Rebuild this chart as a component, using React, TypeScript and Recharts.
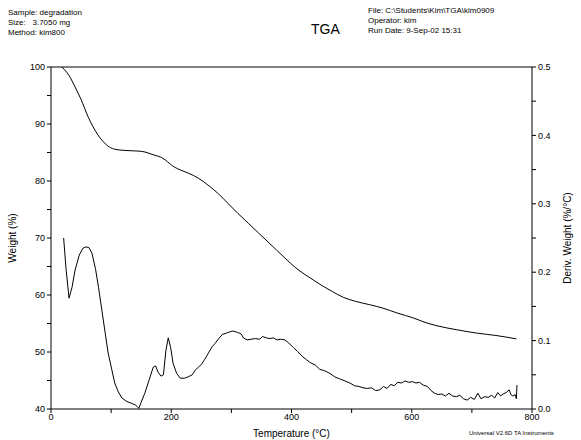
import { ComposedChart, Line, XAxis, YAxis, ReferenceLine } from 'recharts';

// TGA weight curve (temperature °C, weight %)
const tgaTemp = [18, 22, 30, 40, 50, 62, 70, 78, 86, 95, 105, 118, 135, 151, 162, 173, 182, 190, 198, 206, 216, 228, 245, 261, 278, 294, 311, 328, 345, 361, 375, 389, 398, 414, 431, 450, 468, 486, 506, 530, 552, 577, 602, 622, 642, 675, 709, 740, 774];
const tgaWeight = [100, 99.6, 98.5, 96.5, 94.3, 91.2, 89.5, 88.1, 87.0, 86.1, 85.6, 85.4, 85.3, 85.2, 84.9, 84.5, 84.2, 83.7, 83.0, 82.4, 81.9, 81.4, 80.5, 79.3, 77.8, 76.1, 74.3, 72.6, 70.9, 69.3, 67.9, 66.5, 65.6, 64.2, 63.0, 61.7, 60.6, 59.6, 58.9, 58.3, 57.7, 56.8, 56.0, 55.2, 54.6, 53.9, 53.3, 52.9, 52.3];

// derivative weight curve (temperature °C, %/°C)
const dtgTemp = [21, 25, 30, 35, 40, 47, 53, 58, 63, 68, 74, 79, 87, 95, 101, 106, 112, 118, 126, 135, 140, 143, 146, 150, 156, 163, 170, 174, 178, 183, 187, 191, 195, 199, 203, 209, 215, 222, 228, 235, 240, 245, 250, 256, 262, 268, 273, 279, 285, 292, 298, 303, 310, 316, 320, 326, 333, 340, 347, 352, 358, 364, 370, 376, 382, 389, 396, 403, 410, 419, 425, 431, 440, 447, 455, 464, 472, 480, 489, 497, 505, 512, 519, 526, 533, 540, 547, 553, 559, 565, 571, 577, 583, 589, 595, 601, 607, 613, 619, 626, 632, 638, 644, 650, 656, 662, 668, 674, 680, 686, 692, 698, 704, 710, 715, 721, 727, 733, 738, 743, 748, 752, 757, 762, 765, 768, 772, 774, 775];
const dtgDeriv = [0.250, 0.205, 0.162, 0.178, 0.203, 0.225, 0.235, 0.237, 0.236, 0.228, 0.205, 0.178, 0.130, 0.082, 0.058, 0.038, 0.025, 0.016, 0.011, 0.008, 0.006, 0.004, 0.001, 0.010, 0.023, 0.042, 0.061, 0.063, 0.054, 0.048, 0.050, 0.085, 0.104, 0.090, 0.067, 0.052, 0.045, 0.045, 0.047, 0.050, 0.057, 0.061, 0.065, 0.073, 0.082, 0.091, 0.096, 0.103, 0.109, 0.111, 0.113, 0.114, 0.112, 0.110, 0.104, 0.101, 0.102, 0.103, 0.102, 0.106, 0.104, 0.103, 0.104, 0.101, 0.102, 0.101, 0.096, 0.090, 0.084, 0.076, 0.072, 0.068, 0.064, 0.058, 0.056, 0.052, 0.047, 0.044, 0.041, 0.038, 0.034, 0.033, 0.031, 0.030, 0.031, 0.027, 0.028, 0.033, 0.030, 0.036, 0.034, 0.039, 0.038, 0.041, 0.039, 0.040, 0.038, 0.039, 0.035, 0.033, 0.027, 0.023, 0.021, 0.022, 0.019, 0.023, 0.019, 0.018, 0.020, 0.015, 0.013, 0.017, 0.014, 0.023, 0.015, 0.018, 0.017, 0.020, 0.016, 0.024, 0.019, 0.022, 0.024, 0.028, 0.021, 0.019, 0.021, 0.015, 0.035];

const xTicks = [0, 100, 200, 300, 400, 500, 600, 700, 800];
const leftTicks = [40, 45, 50, 55, 60, 65, 70, 75, 80, 85, 90, 95, 100];
const rightTicks = [0, 0.05, 0.1, 0.15, 0.2, 0.25, 0.3, 0.35, 0.4, 0.45, 0.5];

const tgaData = tgaTemp.map((t, i) => ({ temp: t, weight: tgaWeight[i] }));
const dtgData = dtgTemp.map((t, i) => ({ temp: t, deriv: dtgDeriv[i] }));

const font = '"Liberation Sans", Arial, sans-serif';
const tickStyle = { fontSize: 9, fill: '#000', fontFamily: font };
const small = { position: 'absolute' as const, fontFamily: font, fontSize: 8, lineHeight: '10px', color: '#000', whiteSpace: 'pre' as const };

export default function App() {
  return (
    <div style={{ position: 'absolute', left: 0, top: 0, width: 581, height: 440, background: '#fff' }}>
      <div style={{ ...small, left: 8, top: 8 }}>{'Sample: degradation\nSize:   3.7050 mg\nMethod: kim800'}</div>
      <div style={{ ...small, left: 311, top: 21, fontSize: 14, lineHeight: '16px' }}>TGA</div>
      <div style={{ ...small, left: 368, top: 6 }}>{'File: C:\\Students\\Kim\\TGA\\kim0909\nOperator: kim\nRun Date: 9-Sep-02 15:31'}</div>
      <ComposedChart width={581} height={440} margin={{ top: 67, right: 0, bottom: 0, left: 0 }}>
        <XAxis
          type="number"
          dataKey="temp"
          domain={[0, 800]}
          ticks={xTicks}
          tickFormatter={(v: number) => (v % 200 === 0 ? String(v) : '')}
          height={31}
          tick={tickStyle}
          tickSize={4}
          tickMargin={1}
          stroke="#000"
          allowDataOverflow
          label={{ value: 'Temperature (°C)', position: 'insideBottom', offset: 3, style: { fontSize: 10, fill: '#000', fontFamily: font } }}
        />
        <YAxis
          yAxisId="left"
          domain={[40, 100]}
          ticks={leftTicks}
          tickFormatter={(v: number) => (v % 10 === 0 ? String(v) : '')}
          width={51}
          tick={tickStyle}
          tickSize={4}
          tickMargin={2}
          stroke="#000"
          allowDataOverflow
          label={{ value: 'Weight (%)', angle: -90, position: 'insideLeft', offset: 12, style: { fontSize: 10, fill: '#000', fontFamily: font, textAnchor: 'middle' } }}
        />
        <YAxis
          yAxisId="right"
          orientation="right"
          domain={[0, 0.5]}
          ticks={rightTicks}
          tickFormatter={(v: number) => (Math.round(v * 100) % 10 === 0 ? v.toFixed(1) : '')}
          width={49}
          tick={tickStyle}
          tickSize={4}
          tickMargin={2}
          stroke="#000"
          allowDataOverflow
          label={{ value: 'Deriv. Weight (%/°C)', angle: -90, position: 'insideRight', offset: 14, style: { fontSize: 10, fill: '#000', fontFamily: font, textAnchor: 'middle' } }}
        />
        <ReferenceLine yAxisId="left" y={100} stroke="#000" strokeWidth={1} />
        <Line yAxisId="left" data={tgaData} dataKey="weight" type="monotone" stroke="#000" strokeWidth={1} dot={false} isAnimationActive={false} />
        <Line yAxisId="right" data={dtgData} dataKey="deriv" type="linear" stroke="#000" strokeWidth={1} dot={false} isAnimationActive={false} />
      </ComposedChart>
      <div style={{ ...small, left: 469, top: 428, fontSize: 6 }}>Universal V2.6D TA Instruments</div>
    </div>
  );
}
